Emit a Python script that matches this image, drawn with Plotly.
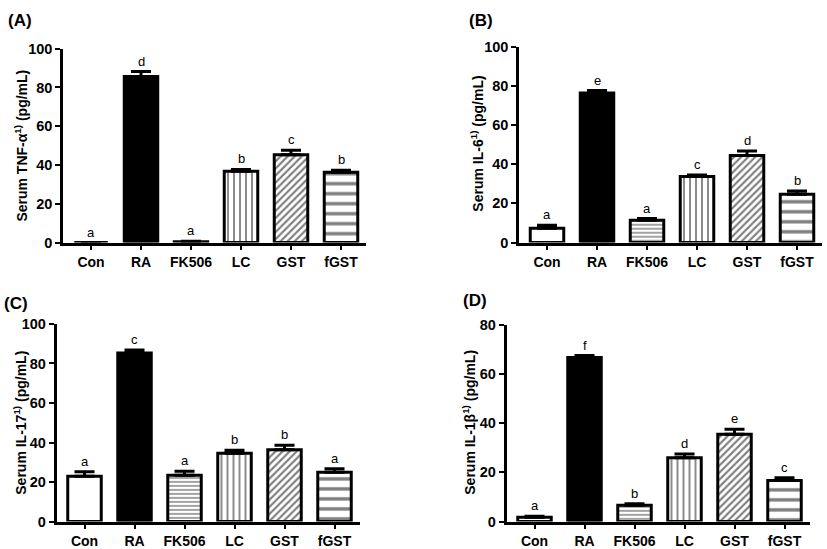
import plotly.graph_objects as go

categories = ["Con", "RA", "FK506", "LC", "GST", "fGST"]

tnf_mean = [0.0, 85.7, 0.4, 36.8, 45.3, 36.3]
tnf_sem = [0.0, 2.5, 0.2, 0.9, 2.3, 1.0]
tnf_letters = ["a", "d", "a", "b", "c", "b"]

il6_mean = [7.3, 76.4, 11.4, 33.7, 44.4, 24.6]
il6_sem = [1.5, 1.2, 0.8, 0.8, 2.4, 1.7]
il6_letters = ["a", "e", "a", "c", "d", "b"]

il17_mean = [23.0, 85.3, 23.5, 34.6, 36.3, 25.0]
il17_sem = [2.2, 1.5, 2.0, 1.5, 2.3, 1.7]
il17_letters = ["a", "c", "a", "b", "b", "a"]

il1b_mean = [1.8, 66.7, 6.6, 26.0, 35.5, 16.7]
il1b_sem = [0.4, 0.8, 0.7, 1.5, 2.1, 1.1]
il1b_letters = ["a", "f", "b", "d", "e", "c"]

panel_labels = ["(A)", "(B)", "(C)", "(D)"]
y_titles = ["Serum TNF-α<sup>1)</sup> (pg/mL)", "Serum IL-6<sup>1)</sup> (pg/mL)",
            "Serum IL-17<sup>1)</sup> (pg/mL)", "Serum IL-1β<sup>1)</sup> (pg/mL)"]
y_max = [100, 100, 100, 80]

W, H = 827, 549
FONT = "Arial, Liberation Sans, sans-serif"

# pixel layout of each panel: (x_left, x_right, y_bottom, y_top)
boxes = [(63, 366, 242, 42), (519, 822, 242, 40), (56.5, 359.5, 530, 326), (506.5, 809.5, 530, 327)]
label_pos = [(6, 13), (467, 13), (2, 305), (461, 302)]
title_pos = [(21, 142), (477, 140), (20, 428), (469, 428)]

fill_colors = ["white", "black", "white", "white", "white", "white"]
pat_shapes = ["", "", "-", "|", "/", "-"]
pat_sizes = [8, 8, 4, 6, 5, 10]
pat_solid = [0.2, 0.2, 0.36, 0.3, 0.42, 0.34]

means = [tnf_mean, il6_mean, il17_mean, il1b_mean]
sems = [tnf_sem, il6_sem, il17_sem, il1b_sem]
letters = [tnf_letters, il6_letters, il17_letters, il1b_letters]

fig = go.Figure()
annotations = []
for i in range(4):
    sx = "" if i == 0 else str(i + 1)
    xa, ya = "x" + sx, "y" + sx
    for j, c in enumerate(categories):
        marker = dict(color=fill_colors[j], line=dict(color="black", width=3))
        if pat_shapes[j]:
            marker["pattern"] = dict(shape=pat_shapes[j], size=pat_sizes[j], solidity=pat_solid[j],
                                     fgcolor="black", bgcolor="white", fillmode="overlay")
        fig.add_trace(go.Bar(
            x=[c], y=[means[i][j]], xaxis=xa, yaxis=ya, width=0.67, marker=marker,
            error_y=dict(type="data", symmetric=False, array=[sems[i][j]], arrayminus=[0],
                         thickness=3, width=10, color="black"),
            showlegend=False, hoverinfo="skip"))
    xl, xr, yb, yt = boxes[i]
    axis_common = dict(showline=True, linecolor="black", linewidth=2.5, ticks="outside",
                       ticklen=5, tickwidth=2, tickcolor="black", showgrid=False, zeroline=False)
    fig.layout["xaxis" + sx] = dict(domain=[xl / W, xr / W], anchor=ya, range=[-0.56, 5.5],
                                    type="category", categoryorder="array", categoryarray=categories,
                                    tickfont=dict(family=FONT, size=14, weight="bold", color="black"),
                                    **axis_common)
    fig.layout["yaxis" + sx] = dict(domain=[1 - yb / H, 1 - yt / H], anchor=xa, range=[0, y_max[i]],
                                    tickvals=list(range(0, y_max[i] + 1, 20)),
                                    tickfont=dict(family=FONT, size=14.5, weight="bold", color="black"),
                                    **axis_common)
    for c, m, s, l in zip(categories, means[i], sems[i], letters[i]):
        annotations.append(dict(x=c, y=m + s, xref=xa, yref=ya, text=l, showarrow=False,
                                yanchor="bottom", yshift=1,
                                font=dict(family=FONT, size=13, color="black")))
    lx, ly = label_pos[i]
    annotations.append(dict(x=lx / W, y=1 - ly / H, xref="paper", yref="paper", text=panel_labels[i],
                            showarrow=False, xanchor="left", yanchor="middle",
                            font=dict(family=FONT, size=17, weight="bold", color="black")))
    tx, ty = title_pos[i]
    annotations.append(dict(x=tx / W, y=1 - ty / H, xref="paper", yref="paper", text=y_titles[i],
                            showarrow=False, xanchor="center", yanchor="middle", textangle=-90,
                            font=dict(family=FONT, size=14, weight="bold", color="black")))

fig.update_layout(width=W, height=H, margin=dict(l=0, r=0, t=0, b=0),
                  paper_bgcolor="white", plot_bgcolor="white", barmode="overlay",
                  annotations=annotations)
fig.write_html("out.html", config={"displayModeBar": False},
               post_script="document.body.style.margin='0px';")
